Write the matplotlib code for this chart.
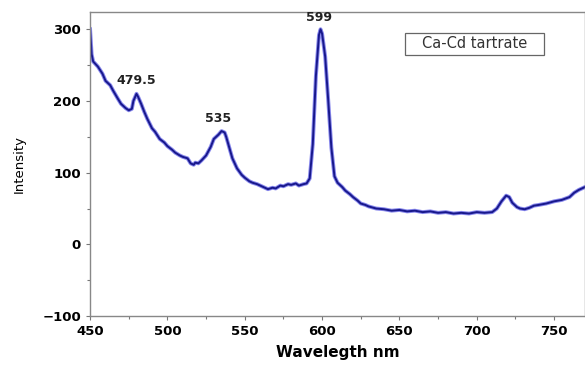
import matplotlib.pyplot as plt
from matplotlib.patches import Rectangle
from matplotlib.ticker import MultipleLocator

# spectrum
wavelength = [450, 451, 452, 455, 458, 460, 463, 465, 468, 470, 473, 475, 477, 478, 480, 481, 483,
              485, 487, 490, 492, 495, 498, 500, 503, 505, 508, 510, 513, 515, 517, 518, 520, 522,
              525, 528, 530, 533, 535, 537, 538, 540, 542, 545, 548, 550, 553, 555, 558, 560, 563,
              565, 568, 570, 573, 575, 578, 580, 583, 585, 588, 590, 592, 594, 596, 598, 599, 600,
              602, 604, 606, 608, 610, 613, 615, 618, 620, 623, 625, 628, 630, 635, 640, 645, 650,
              655, 660, 665, 670, 675, 680, 685, 690, 695, 700, 705, 710, 713, 716, 719, 721, 723,
              726, 728, 731, 734, 737, 740, 745, 750, 755, 760, 763, 766, 770]
intensity = [300, 265, 255, 248, 238, 228, 222, 214, 203, 196, 190, 187, 189, 200, 210, 206, 196,
             185, 175, 162, 157, 147, 142, 137, 132, 128, 124, 122, 120, 113, 111, 114, 113, 117,
             124, 136, 147, 153, 158, 156, 150, 135, 120, 106, 97, 93, 88, 86, 84, 82, 79,
             77, 79, 78, 82, 81, 84, 83, 85, 82, 84, 85, 92, 140, 235, 292, 300, 294,
             262, 200, 135, 95, 86, 80, 75, 70, 66, 61, 57, 55, 53, 50, 49, 47, 48,
             46, 47, 45, 46, 44, 45, 43, 44, 43, 45, 44, 45, 50, 60, 68, 66, 58,
             52, 50, 49, 51, 54, 55, 57, 60, 62, 66, 72, 76, 80]

peak_x = [480, 533, 598]
peak_y = [228, 175, 317]
peak_labels = ["479.5", "535", "599"]

fig = plt.figure(figsize=(5.85, 3.65), dpi=100)
ax = fig.add_axes([0.154, 0.134, 0.846, 0.833])

ax.plot(wavelength, intensity, color="#3a3ae0", lw=2.8, alpha=0.6)
ax.plot(wavelength, intensity, color="#18188c", lw=1.4)

for x, y, t in zip(peak_x, peak_y, peak_labels):
    ax.text(x, y, t, ha="center", va="center", fontsize=9, fontweight="bold", color="#222222")

ax.add_patch(Rectangle((0.636, 0.859), 0.281, 0.072, transform=ax.transAxes,
                       fc="white", ec="#666666", lw=0.9, zorder=3))
ax.text(0.777, 0.895, "Ca-Cd tartrate", transform=ax.transAxes, ha="center", va="center",
        fontsize=10.5, color="#333333", zorder=4)

ax.set_xlim(450, 770)
ax.set_ylim(-100, 324)
ax.xaxis.set_major_locator(MultipleLocator(50))
ax.xaxis.set_minor_locator(MultipleLocator(25))
ax.yaxis.set_major_locator(MultipleLocator(100))
ax.yaxis.set_minor_locator(MultipleLocator(50))
ax.tick_params(which="both", labelsize=9.5, color="#777777", width=0.8)
ax.tick_params(which="major", length=3)
ax.tick_params(which="minor", length=2)
for lbl in ax.get_xticklabels() + ax.get_yticklabels():
    lbl.set_fontweight("bold")
for s in ax.spines.values():
    s.set_color("#888888")
    s.set_linewidth(1.0)

ax.set_ylabel("Intensity", fontsize=9.5, labelpad=12)
ax.set_xlabel("Wavelegth nm", fontsize=11, fontweight="bold", labelpad=5)

fig.savefig("out.png", dpi=100)
